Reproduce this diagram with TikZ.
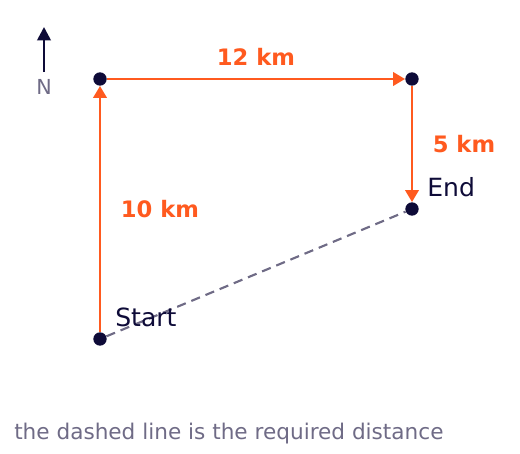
\documentclass[tikz,border=0pt]{standalone}
\usepackage{fontspec}
\setmainfont{DejaVu Sans}
\usetikzlibrary{arrows.meta}
\definecolor{leg}{HTML}{FF5A1F}
\definecolor{ink}{HTML}{0E0B38}
\definecolor{mute}{HTML}{6F6B86}
\tikzset{
    pt/.style={circle, fill=ink, inner sep=0pt, minimum size=10pt},
    leg/.style={draw=leg, line width=2pt, -{Triangle[length=9pt,width=10pt]}},
    dist/.style={font=\bfseries\fontsize{17}{20}\selectfont, text=leg},
    place/.style={font=\fontsize{18.8}{22}\selectfont, text=ink}
}

\begin{document}
\begin{tikzpicture}[x=0.75pt, y=-0.75pt]
    \useasboundingbox (0,0) rectangle (520,453);
    \coordinate (tail) at (44,72);
    \coordinate (head) at (44,27);
    \draw[ink, line width=2pt, -{Triangle[length=10pt,width=10pt]}](tail)--(head);
    \node[text=mute, font=\fontsize{15.5}{18}\selectfont] (north) at (44,87) {N};

    \node[pt] (start) at (100,339) {};
    \node[pt] (corner) at (100,79) {};
    \node[pt] (turn) at (412,79) {};
    \node[pt] (end) at (412,209) {};

    \draw[mute, line width=1.6pt, dash pattern=on 7pt off 4.5pt](start)--(end);
    \draw[leg](start)--(corner);
    \draw[leg](corner)--(turn);
    \draw[leg](turn)--(end);

    \node[dist] (d10) at (160,209) {10 km};
    \node[dist] (d12) at (256,57) {12 km};
    \node[dist] (d5) at (464,144) {5 km};
    \node[place, anchor=west, inner sep=0pt] (lstart) at (115,317) {Start};
    \node[place, anchor=west, inner sep=0pt] (lend) at (427,187) {End};

    \node[text=mute, anchor=west, inner sep=0pt, font=\fontsize{16.2}{19}\selectfont] (note) at (14,434) {the dashed line is the required distance};
\end{tikzpicture}
\end{document}
